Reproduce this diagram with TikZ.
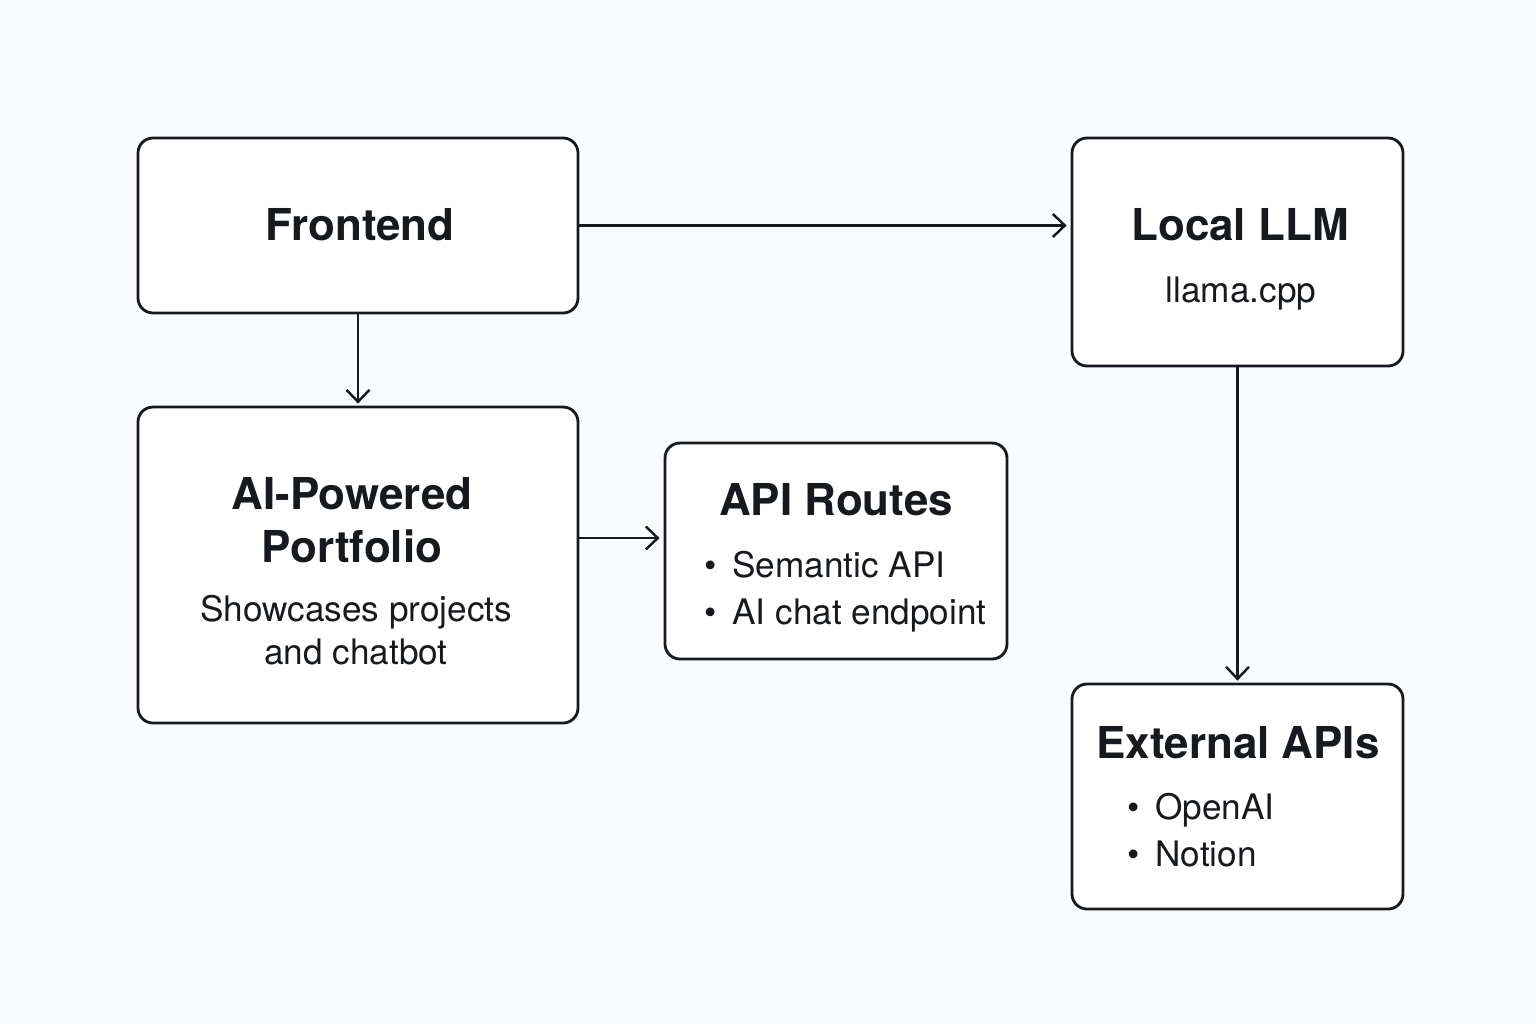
\documentclass[tikz,border=0pt]{standalone}
\usepackage{fontspec}
\setmainfont{TeX Gyre Heros}
\usepackage{tikz}
\usetikzlibrary{positioning, arrows.meta}
\definecolor{inkDark}{HTML}{16191D}
\definecolor{paperBg}{HTML}{FAFBFC}
\tikzset{
    >={Straight Barb[length=1.2mm, width=2.3mm]}, % open chevron heads
    box/.style={draw=inkDark, line width=0.8pt, fill=white, rounded corners=1.5mm}, % every block
    titleText/.style={text=inkDark, align=center, font=\bfseries\fontsize{12.5}{15.1}\selectfont}, % block heading
    bodyText/.style={text=inkDark, align=center, font=\fontsize{10}{12.3}\selectfont}, % block body
    bulletText/.style={text=inkDark, align=left, anchor=west, font=\fontsize{10}{13.4}\selectfont}, % bullet lists
}
\newcommand{\bul}{\textbullet\hspace{0.45em}}

\begin{document}
\begin{tikzpicture}[
                                arr/.style={->, draw=inkDark, line width=0.7pt},
                            ]
                            \fill[paperBg] (0,0) rectangle (15.36,-10.24);
                            \useasboundingbox (0,0) rectangle (15.36,-10.24);
                            \node[box, minimum width=4.40cm, minimum height=1.75cm] (fe) at (3.58,-2.255) {};
                            \node[box, minimum width=3.31cm, minimum height=2.28cm] (llm) at (12.375,-2.52) {};
                            \node[box, minimum width=4.40cm, minimum height=3.16cm] (port) at (3.58,-5.65) {};
                            \node[box, minimum width=3.42cm, minimum height=2.16cm] (api) at (8.36,-5.51) {};
                            \node[box, minimum width=3.31cm, minimum height=2.25cm] (ext) at (12.375,-7.965) {};
                            \node[titleText] (feTitle) at (3.60,-2.25) {Frontend};
                            \node[titleText] (llmTitle) at (12.40,-2.25) {Local LLM};
                            \node[bodyText] (llmBody) at (12.41,-2.94) {llama.cpp};
                            \node[titleText] (portTitle) at (3.52,-5.20) {AI-Powered\\Portfolio};
                            \node[bodyText] (portBody) at (3.56,-6.30) {Showcases projects\\and chatbot};
                            \node[titleText] (apiTitle) at (8.36,-5.00) {API Routes};
                            \node[bulletText] (apiList) at (6.92,-5.915) {\bul Semantic API\\\bul AI chat endpoint};
                            \node[titleText] (extTitle) at (12.38,-7.43) {External APIs};
                            \node[bulletText] (extList) at (11.15,-8.305) {\bul OpenAI\\\bul Notion};
                            \coordinate (pa) at ([yshift=2.7mm]port.east);
                            \draw[arr] (fe.east) -- ([xshift=-0.4mm]fe.east -| llm.west);
                            \draw[arr] (fe.south) -- ([yshift=0.2mm]port.north);
                            \draw[arr] (pa) -- ([xshift=-0.4mm]pa -| api.west);
                            \draw[arr] (llm.south) -- ([yshift=0.2mm]ext.north);
                        \end{tikzpicture}
\end{document}
